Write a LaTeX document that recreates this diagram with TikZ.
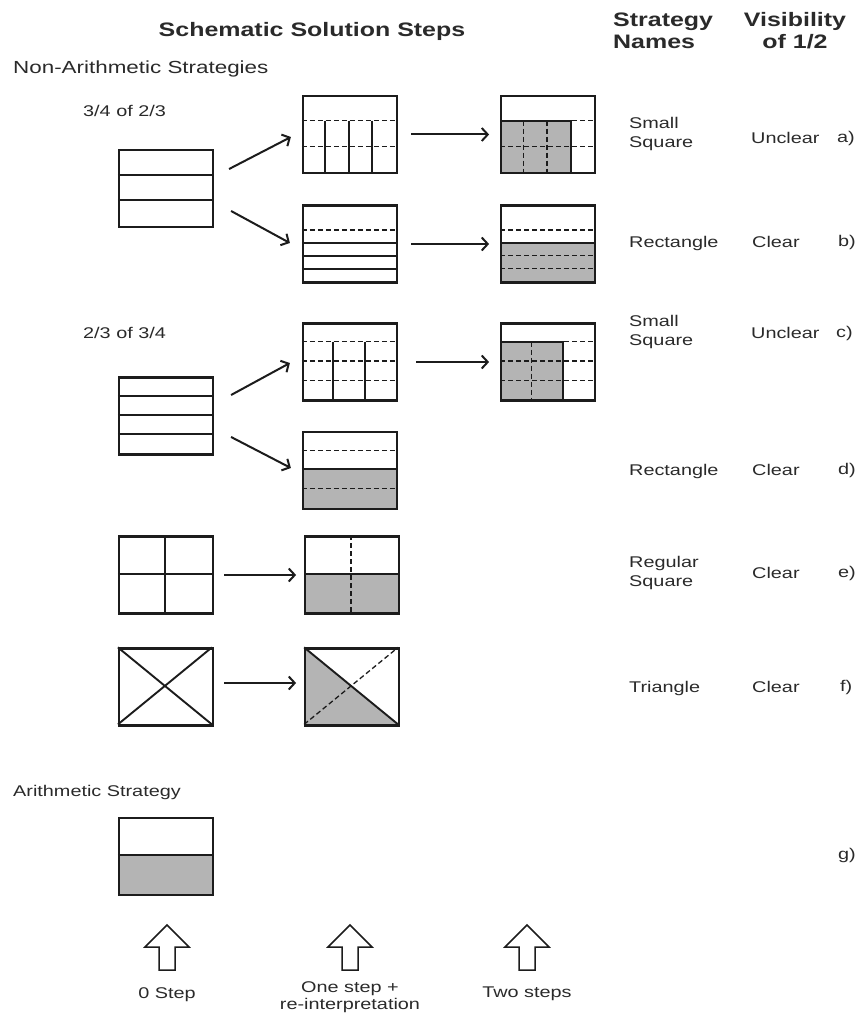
\documentclass[tikz,border=0pt]{standalone}
\usepackage{fontspec}
\setmainfont[FakeStretch=1.28]{Liberation Sans}
\usepackage{xcolor}
\definecolor{cLine}{HTML}{1C1C1C}
\definecolor{cText}{HTML}{2A2A2A}
\definecolor{cShade}{HTML}{B4B4B4}
\usetikzlibrary{positioning,arrows.meta,calc,backgrounds}
\tikzset{
  frac-box/.style={draw=cLine,line width=2.2pt,minimum width=94pt,
    minimum height=77pt,inner sep=0pt},
  % unit square inside a box: (0,0) top left, (1,1) bottom right
  inside/.style={shift={(#1.north west)},x=94pt,y=-77pt},
  part-solid/.style={draw=cLine,line width=1.9pt},
  part-dashed/.style={draw=cLine,line width=1.3pt,dash pattern=on 5pt off 3pt},
  part-shade/.style={fill=cShade},
  arrow/.style={-{Straight Barb[length=6pt,width=13pt]},line width=2pt,draw=cLine},
  txt-head/.style={font=\bfseries\fontsize{19.5}{22}\selectfont,inner sep=0pt},
  txt-group/.style={font=\fontsize{17.5}{20}\selectfont,anchor=west,inner sep=0pt},
  txt-col/.style={font=\fontsize{15.5}{19.5}\selectfont,anchor=west,align=left,inner sep=0pt},
  txt-step/.style={font=\fontsize{15.5}{17}\selectfont,align=center,inner sep=0pt},
  up-arrow/.pic={
    \draw[line width=1.5pt,draw=cLine,line join=miter]
      (-8,23) -- (-8,0) -- (-22,0) -- (0,-22) -- (22,0) -- (8,0) -- (8,23) -- cycle;
  },
}

\begin{document}
\begin{tikzpicture}[x=1pt,y=-1pt,text=cText]
  \useasboundingbox (0,0) rectangle (860,1014);
  % headings
  \node[txt-head] (title) at (312,31) {Schematic Solution Steps};
  \node[txt-head,anchor=west,align=left] (hname) at (613,31) {Strategy\\Names};
  \node[txt-head,align=center] (hvis) at (795,31) {Visibility\\of 1/2};
  \node[txt-group] (nonar) at (13,69) {Non-Arithmetic Strategies};
  \node[txt-col] (task1) at (83,111) {3/4 of 2/3};
  \node[txt-col] (task2) at (83,333) {2/3 of 3/4};
  \node[txt-group,font=\fontsize{15.5}{19}\selectfont] (arith) at (13,792) {Arithmetic Strategy};

  % boxes
  \node[frac-box] (a1) at (166,188.5) {};
  \node[frac-box] (a2) at (350,134.5) {};
  \node[frac-box,right=102pt of a2] (a3) {};
  \node[frac-box] (b2) at (350,244) {};
  \node[frac-box,right=102pt of b2] (b3) {};
  \node[frac-box] (c1) at (166,416) {};
  \node[frac-box] (c2) at (350,362) {};
  \node[frac-box,right=102pt of c2] (c3) {};
  \node[frac-box] (d2) at (350,470.5) {};
  \node[frac-box] (e1) at (166,575) {};
  \node[frac-box,right=90pt of e1] (e2) {};
  \node[frac-box] (f1) at (166,687) {};
  \node[frac-box,right=90pt of f1] (f2) {};
  \node[frac-box] (g1) at (166,856.5) {};

  % a) and b): 3/4 of 2/3
  \begin{scope}[inside=a1]
    \draw[part-solid] (0,1/3) -- (1,1/3) (0,2/3) -- (1,2/3);
  \end{scope}
  \begin{scope}[inside=a2]
    \draw[part-dashed] (0,1/3) -- (1,1/3) (0,2/3) -- (1,2/3);
    \foreach \u in {1,2,3} \draw[part-solid] (\u/4,1/3) -- (\u/4,1);
  \end{scope}
  \begin{scope}[inside=a3]
    \begin{scope}[on background layer]
      \fill[part-shade] (0,1/3) rectangle (3/4,1);
    \end{scope}
    \draw[part-dashed] (0,1/3) -- (1,1/3) (0,2/3) -- (1,2/3);
    \draw[part-dashed] (1/4,1/3) -- (1/4,1) (1/2,1/3) -- (1/2,1);
    \draw[part-solid] (0,1/3) -- (3/4,1/3) -- (3/4,1);
  \end{scope}
  \begin{scope}[inside=b2]
    \draw[part-dashed] (0,1/3) -- (1,1/3);
    \foreach \v in {1/2,2/3,5/6} \draw[part-solid] (0,\v) -- (1,\v);
  \end{scope}
  \begin{scope}[inside=b3]
    \begin{scope}[on background layer]
      \fill[part-shade] (0,1/2) rectangle (1,1);
    \end{scope}
    \foreach \v in {1/3,2/3,5/6} \draw[part-dashed] (0,\v) -- (1,\v);
    \draw[part-solid] (0,1/2) -- (1,1/2);
  \end{scope}

  % c) and d): 2/3 of 3/4
  \begin{scope}[inside=c1]
    \foreach \v in {1,2,3} \draw[part-solid] (0,\v/4) -- (1,\v/4);
  \end{scope}
  \begin{scope}[inside=c2]
    \foreach \v in {1,2,3} \draw[part-dashed] (0,\v/4) -- (1,\v/4);
    \draw[part-solid] (1/3,1/4) -- (1/3,1) (2/3,1/4) -- (2/3,1);
  \end{scope}
  \begin{scope}[inside=c3]
    \begin{scope}[on background layer]
      \fill[part-shade] (0,1/4) rectangle (2/3,1);
    \end{scope}
    \foreach \v in {1,2,3} \draw[part-dashed] (0,\v/4) -- (1,\v/4);
    \draw[part-dashed] (1/3,1/4) -- (1/3,1);
    \draw[part-solid] (0,1/4) -- (2/3,1/4) -- (2/3,1);
  \end{scope}
  \begin{scope}[inside=d2]
    \begin{scope}[on background layer]
      \fill[part-shade] (0,1/2) rectangle (1,1);
    \end{scope}
    \draw[part-dashed] (0,1/4) -- (1,1/4) (0,3/4) -- (1,3/4);
    \draw[part-solid] (0,1/2) -- (1,1/2);
  \end{scope}

  % e) regular square, f) triangle, g) arithmetic
  \begin{scope}[inside=e1]
    \draw[part-solid] (0,1/2) -- (1,1/2) (1/2,0) -- (1/2,1);
  \end{scope}
  \begin{scope}[inside=e2]
    \begin{scope}[on background layer]
      \fill[part-shade] (0,1/2) rectangle (1,1);
    \end{scope}
    \draw[part-dashed] (1/2,0) -- (1/2,1);
    \draw[part-solid] (0,1/2) -- (1,1/2);
  \end{scope}
  \begin{scope}[inside=f1]
    \draw[part-solid] (0,0) -- (1,1) (0,1) -- (1,0);
  \end{scope}
  \begin{scope}[inside=f2]
    \begin{scope}[on background layer]
      \fill[part-shade] (0,0) -- (1,1) -- (0,1) -- cycle;
    \end{scope}
    \draw[part-dashed] (0,1) -- (1,0);
    \draw[part-solid] (0,0) -- (1,1);
  \end{scope}
  \begin{scope}[inside=g1]
    \begin{scope}[on background layer]
      \fill[part-shade] (0,1/2) rectangle (1,1);
    \end{scope}
    \draw[part-solid] (0,1/2) -- (1,1/2);
  \end{scope}

  % step arrows
  \draw[arrow] ([xshift=15pt,yshift=19.5pt]a1.east) -- ([xshift=-11pt,yshift=-2.5pt]a2.west);
  \draw[arrow] ([xshift=17pt,yshift=-22.5pt]a1.east) -- ([xshift=-12pt,yshift=1pt]b2.west);
  \draw[arrow,shorten <=13pt,shorten >=11pt] (a2) -- (a3);
  \draw[arrow,shorten <=13pt,shorten >=11pt] (b2) -- (b3);
  \draw[arrow] ([xshift=17pt,yshift=21pt]c1.east) -- ([xshift=-12pt,yshift=-1pt]c2.west);
  \draw[arrow] ([xshift=17pt,yshift=-21pt]c1.east) -- ([xshift=-11pt,yshift=2.5pt]d2.west);
  \draw[arrow,shorten <=18pt,shorten >=11pt] (c2) -- (c3);
  \draw[arrow,shorten <=10pt,shorten >=8pt] (e1) -- (e2);
  \draw[arrow] ([xshift=10pt,yshift=4pt]f1.east) -- ([xshift=-8pt,yshift=4pt]f2.west);

  % strategy names, visibility, tags
  \node[txt-col] (na) at (629,134) {Small\\Square};
  \node[txt-col] (nb) at (629,243) {Rectangle};
  \node[txt-col] (nc) at (629,332) {Small\\Square};
  \node[txt-col] (nd) at (629,471) {Rectangle};
  \node[txt-col] (ne) at (629,573) {Regular\\Square};
  \node[txt-col] (nf) at (629,688) {Triangle};
  \node[txt-col] (va) at (751,138) {Unclear};
  \node[txt-col] (vb) at (752,242) {Clear};
  \node[txt-col] (vc) at (751,333) {Unclear};
  \node[txt-col] (vd) at (752,470) {Clear};
  \node[txt-col] (ve) at (752,573) {Clear};
  \node[txt-col] (vf) at (752,687) {Clear};
  \node[txt-col] (ta) at (837,138) {a)};
  \node[txt-col] (tb) at (838,242) {b)};
  \node[txt-col] (tc) at (836,333) {c)};
  \node[txt-col] (td) at (838,470) {d)};
  \node[txt-col] (te) at (838,573) {e)};
  \node[txt-col] (tf) at (840,687) {f)};
  \node[txt-col] (tg) at (838,855) {g)};

  % step count markers
  \pic (up0) at (167,947) {up-arrow};
  \pic (up1) at (350,947) {up-arrow};
  \pic (up2) at (527,947) {up-arrow};
  \node[txt-step] (s0) at (167,995) {0 Step};
  \node[txt-step] (s1) at (350,997) {One step +\\re-interpretation};
  \node[txt-step] (s2) at (527,994) {Two steps};
\end{tikzpicture}
\end{document}
